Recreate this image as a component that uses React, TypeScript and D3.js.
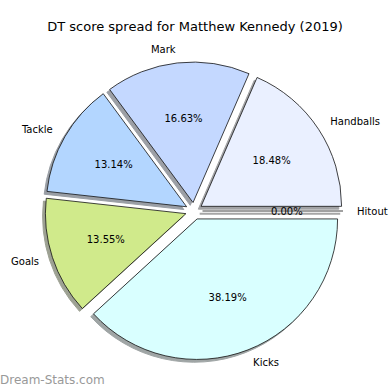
import React from "react";
import * as d3 from "d3";

const categories = ["Handballs", "Mark", "Tackle", "Goals", "Kicks", "Hitout"];
const values = [90, 81, 64, 66, 186, 0];
const colors = ["#eaf0ff", "#c4d8ff", "#b3d6ff", "#d0ea8b", "#d9ffff", "#ffffff"];
const title = "DT score spread for Matthew Kennedy (2019)";
const watermark = "Dream-Stats.com";

const W = 390;
const H = 390;
const cx = 194;
const cy = 211;
const R = 140.5;
const EXPLODE = 8.5;
const SH = 2.8;

function shade(c: string) {
  const col = d3.rgb(c);
  return d3.rgb(col.r * 0.3, col.g * 0.3, col.b * 0.3).formatHex();
}

export default function App() {
  const total = d3.sum(values);
  const pie = d3
    .pie<number>()
    .sort(null)
    .startAngle(Math.PI / 2)
    .endAngle(Math.PI / 2 - 2 * Math.PI)(values);
  const arc = d3.arc<any>().innerRadius(0).outerRadius(R);

  const items = pie.map((p, i) => {
    const mid = (p.startAngle + p.endAngle) / 2;
    const ox = Math.sin(mid) * EXPLODE;
    const oy = -Math.cos(mid) * EXPLODE;
    const zero = p.value === 0;
    const path = zero
      ? `M0,0L${R * Math.sin(mid)},${-R * Math.cos(mid)}`
      : (arc({ startAngle: Math.min(p.startAngle, p.endAngle), endAngle: Math.max(p.startAngle, p.endAngle) }) as string);
    const lx = Math.sin(mid) * R * 1.1;
    const ly = -Math.cos(mid) * R * 1.1;
    const px = Math.sin(mid) * R * 0.6;
    const py = -Math.cos(mid) * R * 0.6;
    return { i, mid, ox, oy, zero, path, lx, ly, px, py, pct: ((p.value / total) * 100).toFixed(2) + "%" };
  });

  const font = "DejaVu Sans, sans-serif";

  return (
    <svg width={W} height={H} style={{ position: "absolute", left: 0, top: 0, background: "#fff" }}>
      <text x={195} y={26} textAnchor="middle" dominantBaseline="central" fontFamily={font} fontSize={13} fill="#000">
        {title}
      </text>
      <g transform={`translate(${cx},${cy})`}>
        {items.map((d) => (
          <path
            key={"s" + d.i}
            transform={`translate(${d.ox - SH},${d.oy + SH})`}
            d={d.path}
            fill={d.zero ? "none" : shade(colors[d.i])}
            stroke={shade(colors[d.i])}
            strokeWidth={d.zero ? 2 : 1}
            opacity={0.5}
          />
        ))}
        {items.map((d) => (
          <path
            key={"w" + d.i}
            transform={`translate(${d.ox},${d.oy})`}
            d={d.path}
            fill={d.zero ? "none" : colors[d.i]}
            stroke="#111"
            strokeWidth={0.8}
            strokeLinejoin="round"
          />
        ))}
        {items.map((d) => (
          <text
            key={"l" + d.i}
            x={d.ox + d.lx}
            y={d.oy + d.ly}
            textAnchor={d.lx > 0.001 ? "start" : "end"}
            dominantBaseline="central"
            fontFamily={font}
            fontSize={10}
            fill="#000"
          >
            {categories[d.i]}
          </text>
        ))}
        {items.map((d) => (
          <text
            key={"p" + d.i}
            x={d.ox + d.px}
            y={d.oy + d.py}
            textAnchor="middle"
            dominantBaseline="central"
            fontFamily={font}
            fontSize={10}
            fill="#000"
          >
            {d.pct}
          </text>
        ))}
      </g>
      <text x={0} y={380} dominantBaseline="central" fontFamily={font} fontSize={12} fill="#999">
        {watermark}
      </text>
    </svg>
  );
}
